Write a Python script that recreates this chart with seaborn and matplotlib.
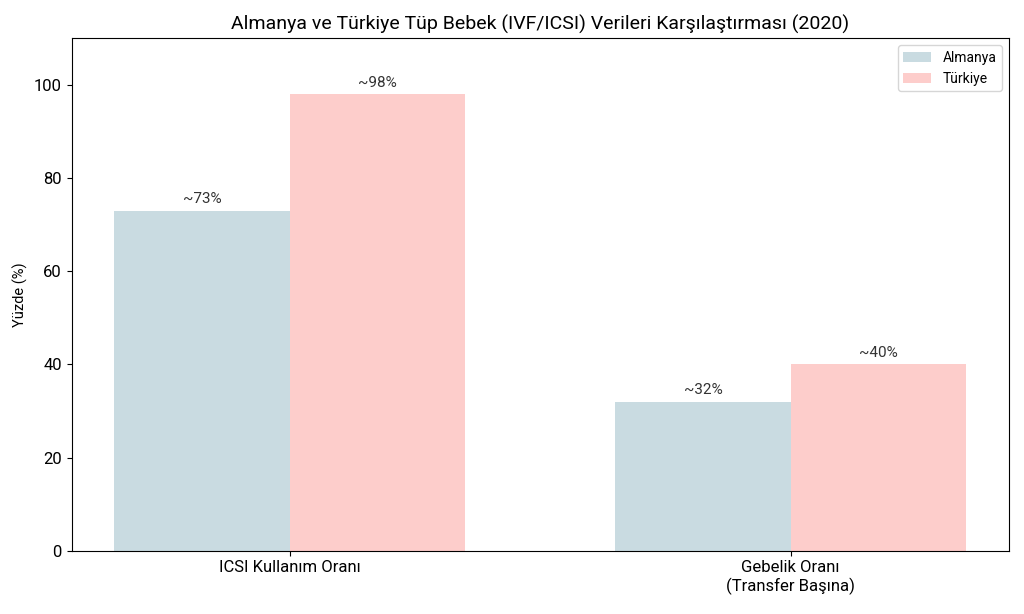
import pandas as pd
import matplotlib.pyplot as plt
import seaborn as sns

# Data
categories = ["ICSI Kullanım Oranı", "Gebelik Oranı\n(Transfer Başına)"]
almanya = [73, 32]
turkiye = [98, 40]
labels_almanya = ["~73%", "~32%"]
labels_turkiye = ["~98%", "~40%"]

df = pd.DataFrame({
    "Kategori": categories * 2,
    "Ülke": ["Almanya"] * 2 + ["Türkiye"] * 2,
    "Yüzde": almanya + turkiye,
})

plt.rcParams["font.family"] = ["Roboto", "DejaVu Sans"]

fig, ax = plt.subplots(figsize=(10.24, 6.14), dpi=100)
sns.barplot(
    data=df, x="Kategori", y="Yüzde", hue="Ülke",
    palette=["#c9dbe1", "#fdcdcb"], width=0.7, ax=ax,
    saturation=1, errorbar=None,
)

# Value labels above bars
for container, labels in zip(ax.containers, [labels_almanya, labels_turkiye]):
    ax.bar_label(container, labels=labels, padding=3, fontsize=11, color="#333333")

ax.set_xlim(-0.435, 1.435)
ax.set_ylim(0, 110)
ax.set_xlabel("")
ax.set_ylabel("Yüzde (%)", fontsize=10.5)
ax.set_title("Almanya ve Türkiye Tüp Bebek (IVF/ICSI) Verileri Karşılaştırması (2020)", fontsize=14)
ax.tick_params(axis="both", labelsize=12)
ax.legend(title=None, loc="upper right", fontsize=10)

fig.subplots_adjust(left=0.07, right=0.985, top=0.938, bottom=0.103)
fig.savefig("out.png", dpi=100)
plt.close(fig)
